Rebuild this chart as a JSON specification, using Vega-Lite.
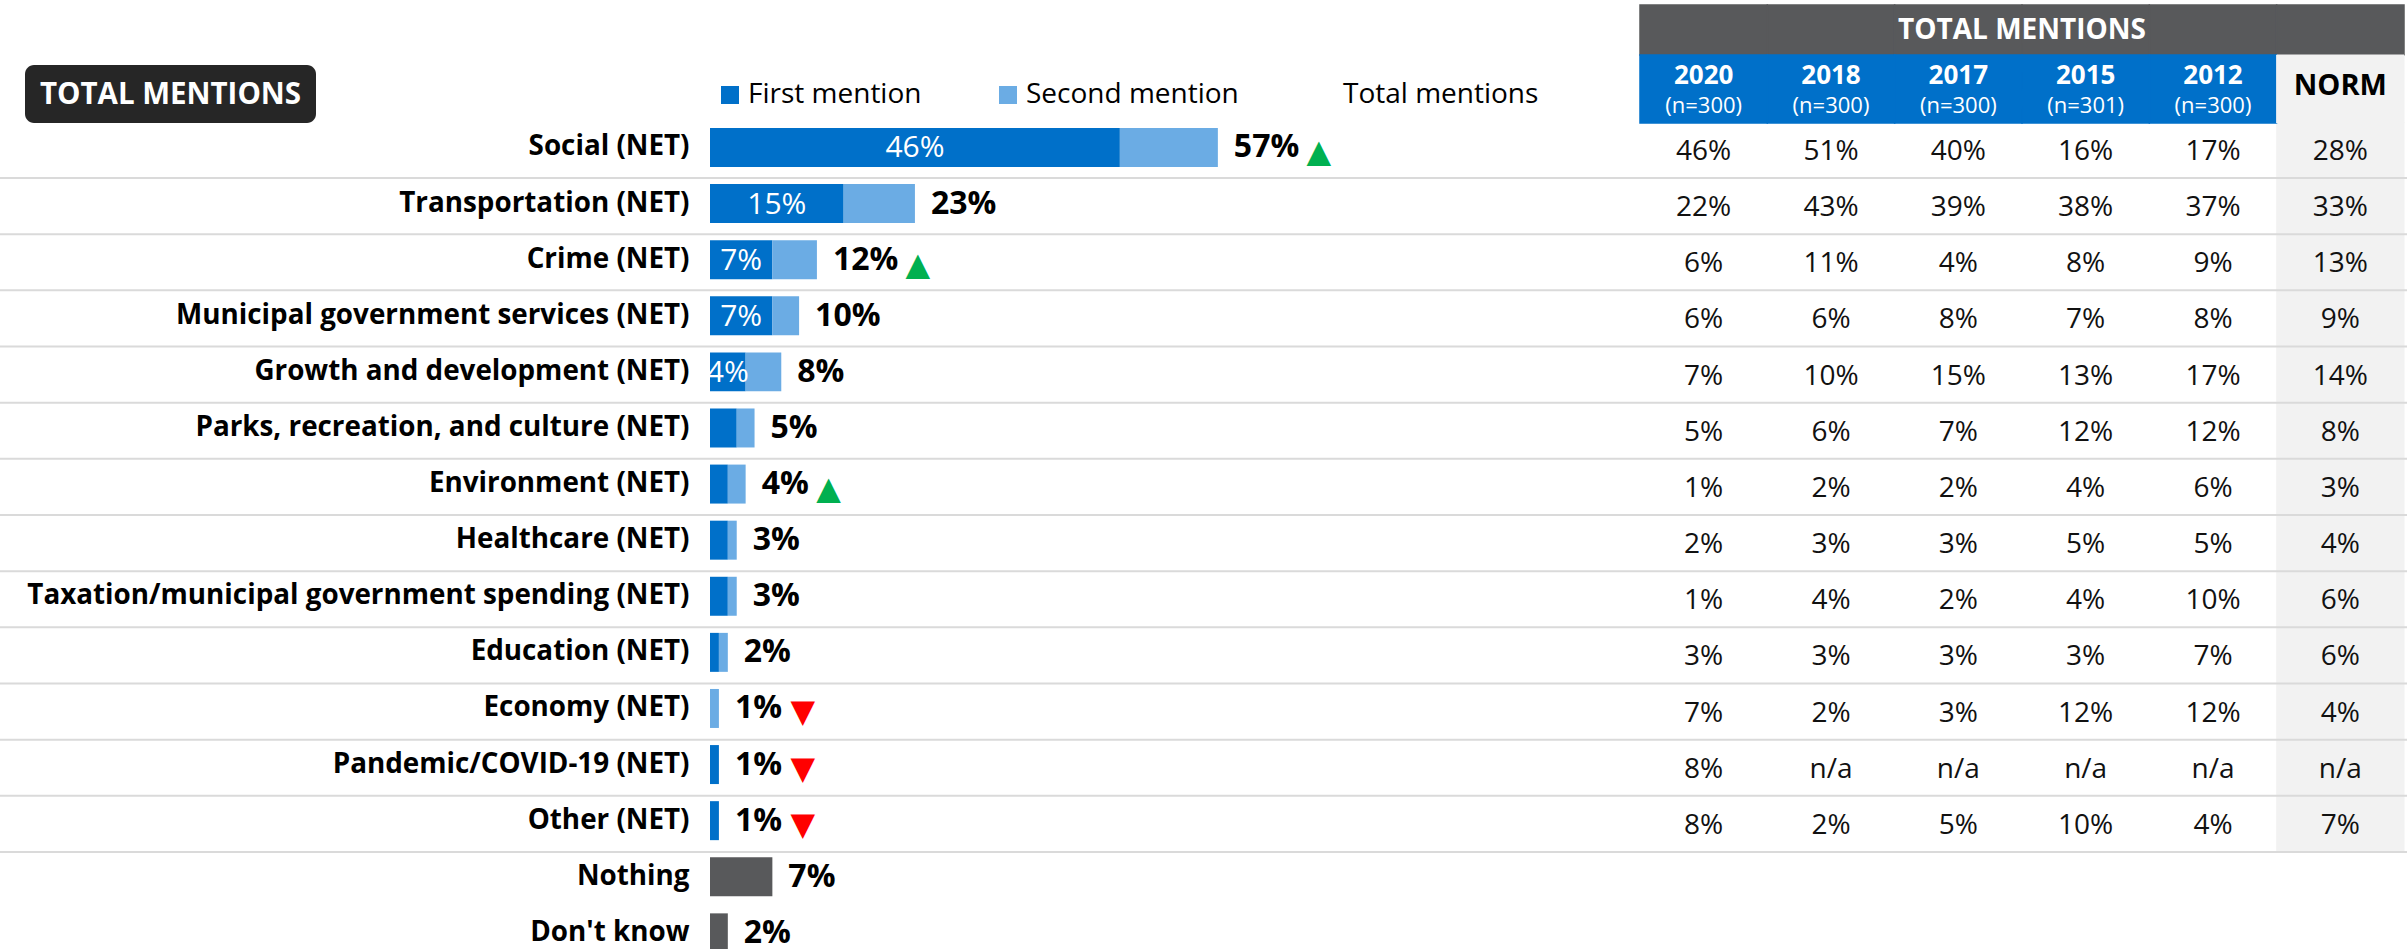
{
  "$schema": "https://vega.github.io/schema/vega-lite/v6.json",
  "width": 2407,
  "height": 949,
  "autosize": {"type": "none"},
  "padding": 0,
  "background": "#ffffff",
  "config": {"view": {"stroke": null}, "font": "Open Sans"},
  "datasets": {
    "bars": [
      {"cat": "Social (NET)", "type": "First mention", "pct": 0.46},
      {"cat": "Social (NET)", "type": "Second mention", "pct": 0.11},
      {"cat": "Transportation (NET)", "type": "First mention", "pct": 0.15},
      {"cat": "Transportation (NET)", "type": "Second mention", "pct": 0.08},
      {"cat": "Crime (NET)", "type": "First mention", "pct": 0.07},
      {"cat": "Crime (NET)", "type": "Second mention", "pct": 0.05},
      {"cat": "Municipal government services (NET)", "type": "First mention", "pct": 0.07},
      {"cat": "Municipal government services (NET)", "type": "Second mention", "pct": 0.03},
      {"cat": "Growth and development (NET)", "type": "First mention", "pct": 0.04},
      {"cat": "Growth and development (NET)", "type": "Second mention", "pct": 0.04},
      {"cat": "Parks, recreation, and culture (NET)", "type": "First mention", "pct": 0.03},
      {"cat": "Parks, recreation, and culture (NET)", "type": "Second mention", "pct": 0.02},
      {"cat": "Environment (NET)", "type": "First mention", "pct": 0.02},
      {"cat": "Environment (NET)", "type": "Second mention", "pct": 0.02},
      {"cat": "Healthcare (NET)", "type": "First mention", "pct": 0.02},
      {"cat": "Healthcare (NET)", "type": "Second mention", "pct": 0.01},
      {"cat": "Taxation/municipal government spending (NET)", "type": "First mention", "pct": 0.02},
      {"cat": "Taxation/municipal government spending (NET)", "type": "Second mention", "pct": 0.01},
      {"cat": "Education (NET)", "type": "First mention", "pct": 0.01},
      {"cat": "Education (NET)", "type": "Second mention", "pct": 0.01},
      {"cat": "Economy (NET)", "type": "First mention", "pct": 0.0},
      {"cat": "Economy (NET)", "type": "Second mention", "pct": 0.01},
      {"cat": "Pandemic/COVID-19 (NET)", "type": "First mention", "pct": 0.01},
      {"cat": "Pandemic/COVID-19 (NET)", "type": "Second mention", "pct": 0.0},
      {"cat": "Other (NET)", "type": "First mention", "pct": 0.01},
      {"cat": "Other (NET)", "type": "Second mention", "pct": 0.0},
      {"cat": "Nothing", "type": "None", "pct": 0.07},
      {"cat": "Don't know", "type": "None", "pct": 0.02}
    ],
    "totals": [
      {"cat": "Social (NET)", "total": 0.57, "sig": "up"},
      {"cat": "Transportation (NET)", "total": 0.23, "sig": ""},
      {"cat": "Crime (NET)", "total": 0.12, "sig": "up"},
      {"cat": "Municipal government services (NET)", "total": 0.10, "sig": ""},
      {"cat": "Growth and development (NET)", "total": 0.08, "sig": ""},
      {"cat": "Parks, recreation, and culture (NET)", "total": 0.05, "sig": ""},
      {"cat": "Environment (NET)", "total": 0.04, "sig": "up"},
      {"cat": "Healthcare (NET)", "total": 0.03, "sig": ""},
      {"cat": "Taxation/municipal government spending (NET)", "total": 0.03, "sig": ""},
      {"cat": "Education (NET)", "total": 0.02, "sig": ""},
      {"cat": "Economy (NET)", "total": 0.01, "sig": "down"},
      {"cat": "Pandemic/COVID-19 (NET)", "total": 0.01, "sig": "down"},
      {"cat": "Other (NET)", "total": 0.01, "sig": "down"},
      {"cat": "Nothing", "total": 0.07, "sig": ""},
      {"cat": "Don't know", "total": 0.02, "sig": ""}
    ],
    "table": [
      {"cat": "Social (NET)", "2020": "46%", "2018": "51%", "2017": "40%", "2015": "16%", "2012": "17%", "NORM": "28%"},
      {"cat": "Transportation (NET)", "2020": "22%", "2018": "43%", "2017": "39%", "2015": "38%", "2012": "37%", "NORM": "33%"},
      {"cat": "Crime (NET)", "2020": "6%", "2018": "11%", "2017": "4%", "2015": "8%", "2012": "9%", "NORM": "13%"},
      {"cat": "Municipal government services (NET)", "2020": "6%", "2018": "6%", "2017": "8%", "2015": "7%", "2012": "8%", "NORM": "9%"},
      {"cat": "Growth and development (NET)", "2020": "7%", "2018": "10%", "2017": "15%", "2015": "13%", "2012": "17%", "NORM": "14%"},
      {"cat": "Parks, recreation, and culture (NET)", "2020": "5%", "2018": "6%", "2017": "7%", "2015": "12%", "2012": "12%", "NORM": "8%"},
      {"cat": "Environment (NET)", "2020": "1%", "2018": "2%", "2017": "2%", "2015": "4%", "2012": "6%", "NORM": "3%"},
      {"cat": "Healthcare (NET)", "2020": "2%", "2018": "3%", "2017": "3%", "2015": "5%", "2012": "5%", "NORM": "4%"},
      {"cat": "Taxation/municipal government spending (NET)", "2020": "1%", "2018": "4%", "2017": "2%", "2015": "4%", "2012": "10%", "NORM": "6%"},
      {"cat": "Education (NET)", "2020": "3%", "2018": "3%", "2017": "3%", "2015": "3%", "2012": "7%", "NORM": "6%"},
      {"cat": "Economy (NET)", "2020": "7%", "2018": "2%", "2017": "3%", "2015": "12%", "2012": "12%", "NORM": "4%"},
      {"cat": "Pandemic/COVID-19 (NET)", "2020": "8%", "2018": "n/a", "2017": "n/a", "2015": "n/a", "2012": "n/a", "NORM": "n/a"},
      {"cat": "Other (NET)", "2020": "8%", "2018": "2%", "2017": "5%", "2015": "10%", "2012": "4%", "NORM": "7%"}
    ],
    "header": [
      {"col": "2020", "n": "(n=300)"},
      {"col": "2018", "n": "(n=300)"},
      {"col": "2017", "n": "(n=300)"},
      {"col": "2015", "n": "(n=301)"},
      {"col": "2012", "n": "(n=300)"},
      {"col": "NORM", "n": ""}
    ]
  },
  "resolve": {"scale": {"x": "independent", "y": "independent", "color": "independent"}},
  "layer": [
    {
      "data": {"name": "table"},
      "transform": [{"fold": ["2020", "2018", "2017", "2015", "2012", "NORM"], "as": ["col", "val"]}],
      "encoding": {
        "x": {"field": "col", "type": "nominal", "axis": null,
          "scale": {"domain": ["2020", "2018", "2017", "2015", "2012", "NORM"], "range": [1640, 2404], "paddingInner": 0, "paddingOuter": 0}},
        "y": {"field": "cat", "type": "nominal", "axis": null,
          "scale": {"domain": ["Social (NET)", "Transportation (NET)", "Crime (NET)", "Municipal government services (NET)", "Growth and development (NET)", "Parks, recreation, and culture (NET)", "Environment (NET)", "Healthcare (NET)", "Taxation/municipal government spending (NET)", "Education (NET)", "Economy (NET)", "Pandemic/COVID-19 (NET)", "Other (NET)"], "range": [121.85, 852], "paddingInner": 0, "paddingOuter": 0}}
      },
      "layer": [
        {"transform": [{"filter": "datum.col === 'NORM'"}], "mark": {"type": "rect", "color": "#F2F2F2", "stroke": "#F2F2F2", "strokeWidth": 1}},
        {"mark": {"type": "text", "fontSize": 28, "color": "#111111", "baseline": "middle", "dy": 2}, "encoding": {"text": {"field": "val"}}}
      ]
    },
    {
      "data": {"name": "table"},
      "mark": {"type": "rule", "color": "#DADADA", "strokeWidth": 2},
      "encoding": {
        "y": {"field": "cat", "type": "nominal", "axis": null,
          "scale": {"type": "point", "domain": ["Social (NET)", "Transportation (NET)", "Crime (NET)", "Municipal government services (NET)", "Growth and development (NET)", "Parks, recreation, and culture (NET)", "Environment (NET)", "Healthcare (NET)", "Taxation/municipal government spending (NET)", "Education (NET)", "Economy (NET)", "Pandemic/COVID-19 (NET)", "Other (NET)"], "range": [178, 852], "padding": 0}}
      }
    },
    {
      "data": {"name": "header"},
      "encoding": {
        "x": {"field": "col", "type": "nominal", "axis": null,
          "scale": {"domain": ["2020", "2018", "2017", "2015", "2012", "NORM"], "range": [1640, 2404], "paddingInner": 0, "paddingOuter": 0}},
        "y": {"datum": "group", "type": "nominal", "axis": null,
          "scale": {"domain": ["group"], "range": [5, 55], "paddingInner": 0, "paddingOuter": 0}}
      },
      "layer": [
        {"mark": {"type": "rect", "color": "#58595B", "stroke": "#58595B", "strokeWidth": 1.5}},
        {"data": {"values": [{"t": "TOTAL MENTIONS"}]},
          "mark": {"type": "text", "color": "#ffffff", "fontSize": 28, "fontWeight": "bold", "baseline": "middle", "dy": 1},
          "encoding": {"x": {"datum": "2017", "type": "nominal", "bandPosition": 1}, "text": {"field": "t"}}}
      ]
    },
    {
      "data": {"name": "header"},
      "encoding": {
        "x": {"field": "col", "type": "nominal", "axis": null,
          "scale": {"domain": ["2020", "2018", "2017", "2015", "2012", "NORM"], "range": [1640, 2404], "paddingInner": 0, "paddingOuter": 0}},
        "y": {"datum": "year", "type": "nominal", "axis": null,
          "scale": {"domain": ["year"], "range": [55, 123], "paddingInner": 0, "paddingOuter": 0}}
      },
      "layer": [
        {"transform": [{"filter": "datum.col !== 'NORM'"}],
          "mark": {"type": "rect", "color": "#0070C9", "stroke": "#0070C9", "strokeWidth": 1.5}},
        {"transform": [{"filter": "datum.col === 'NORM'"}],
          "mark": {"type": "rect", "color": "#F2F2F2", "stroke": "#F2F2F2", "strokeWidth": 1}},
        {"transform": [{"filter": "datum.col !== 'NORM'"}],
          "mark": {"type": "text", "color": "#ffffff", "fontSize": 26, "fontWeight": "bold", "baseline": "middle", "dy": -13},
          "encoding": {"text": {"field": "col"}}},
        {"transform": [{"filter": "datum.col !== 'NORM'"}],
          "mark": {"type": "text", "color": "#ffffff", "fontSize": 22, "baseline": "middle", "dy": 17},
          "encoding": {"text": {"field": "n"}}},
        {"transform": [{"filter": "datum.col === 'NORM'"}],
          "mark": {"type": "text", "color": "#000000", "fontSize": 29, "fontWeight": "bold", "baseline": "middle", "dy": -3},
          "encoding": {"text": {"field": "col"}}}
      ]
    },
    {
      "data": {"values": [{"box": "TOTAL MENTIONS"}]},
      "encoding": {
        "x": {"field": "box", "type": "nominal", "axis": null,
          "scale": {"domain": ["TOTAL MENTIONS"], "range": [25, 316], "paddingInner": 0, "paddingOuter": 0}},
        "y": {"field": "box", "type": "nominal", "axis": null,
          "scale": {"domain": ["TOTAL MENTIONS"], "range": [65, 123], "paddingInner": 0, "paddingOuter": 0}}
      },
      "layer": [
        {"mark": {"type": "rect", "color": "#262626", "cornerRadius": 9}},
        {"mark": {"type": "text", "color": "#ffffff", "fontSize": 29.5, "fontWeight": "bold", "baseline": "middle", "dy": 1}, "encoding": {"text": {"field": "box"}}}
      ]
    },
    {
      "encoding": {
        "y": {"field": "cat", "type": "nominal",
          "scale": {"domain": ["Social (NET)", "Transportation (NET)", "Crime (NET)", "Municipal government services (NET)", "Growth and development (NET)", "Parks, recreation, and culture (NET)", "Environment (NET)", "Healthcare (NET)", "Taxation/municipal government spending (NET)", "Education (NET)", "Economy (NET)", "Pandemic/COVID-19 (NET)", "Other (NET)", "Nothing", "Don't know"], "range": [119.44, 960.9], "paddingInner": 0.305, "paddingOuter": 0.1525},
          "axis": {"orient": "left", "offset": -689, "title": null, "domain": false, "ticks": false, "grid": false, "labelPadding": 0, "labelFont": "Open Sans", "labelFontWeight": "bold", "labelFontSize": 27.8, "labelColor": "#000000", "labelLimit": 1000}}
      },
      "layer": [
        {"data": {"name": "bars"},
          "mark": {"type": "bar"},
          "encoding": {
            "x": {"field": "pct", "type": "quantitative", "stack": "zero", "axis": null,
              "scale": {"domain": [0, 1], "range": [710, 1601], "nice": false, "zero": true}},
            "color": {"field": "type", "type": "nominal",
              "scale": {"domain": ["First mention", "Second mention", "Total mentions", "None"], "range": ["#0070C9", "#6BACE4", "rgba(0,0,0,0)", "#58595B"]},
              "legend": {"orient": "none", "legendX": 716, "legendY": 81, "direction": "horizontal", "title": null,
                "values": ["First mention", "Second mention", "Total mentions"],
                "symbolType": "square", "symbolSize": 324, "symbolStrokeWidth": 0, "symbolOpacity": 1,
                "labelFont": "Open Sans", "labelFontSize": 28, "labelColor": "#000000", "labelOffset": 4,
                "columnPadding": 72, "padding": 0, "labelLimit": 400}}
          }},
        {"data": {"name": "totals"},
          "mark": {"type": "text", "align": "left", "baseline": "middle", "dx": 16, "dy": 0, "fontSize": 32, "fontWeight": "bold", "color": "#000000"},
          "encoding": {"x": {"field": "total", "type": "quantitative", "axis": null}, "text": {"field": "total", "format": ".0%"}}},
        {"data": {"name": "totals"},
          "transform": [{"filter": "datum.sig === 'up' && datum.total >= 0.1"}],
          "mark": {"type": "text", "text": "▲", "font": "DejaVu Sans", "fontSize": 32, "align": "center", "baseline": "middle", "dx": 101, "dy": 5, "color": "#00B050"},
          "encoding": {"x": {"field": "total", "type": "quantitative", "axis": null}}},
        {"data": {"name": "totals"},
          "transform": [{"filter": "datum.sig === 'up' && datum.total < 0.1"}],
          "mark": {"type": "text", "text": "▲", "font": "DejaVu Sans", "fontSize": 32, "align": "center", "baseline": "middle", "dx": 83, "dy": 5, "color": "#00B050"},
          "encoding": {"x": {"field": "total", "type": "quantitative", "axis": null}}},
        {"data": {"name": "totals"},
          "transform": [{"filter": "datum.sig === 'down'"}],
          "mark": {"type": "text", "text": "▼", "font": "DejaVu Sans", "fontSize": 32, "align": "center", "baseline": "middle", "dx": 84, "dy": 4, "color": "#FF0000"},
          "encoding": {"x": {"field": "total", "type": "quantitative", "axis": null}}}
      ]
    },
    {
      "data": {"name": "bars"},
      "transform": [{"filter": "datum.type === 'First mention' && datum.pct >= 0.04"}],
      "mark": {"type": "text", "color": "#ffffff", "fontSize": 30, "align": "center", "baseline": "middle", "dy": 1},
      "encoding": {
        "x": {"field": "pct", "type": "quantitative", "axis": null,
          "scale": {"domain": [0, 1], "range": [710, 1155.5], "nice": false, "zero": true}},
        "y": {"field": "cat", "type": "nominal", "axis": null,
          "scale": {"domain": ["Social (NET)", "Transportation (NET)", "Crime (NET)", "Municipal government services (NET)", "Growth and development (NET)", "Parks, recreation, and culture (NET)", "Environment (NET)", "Healthcare (NET)", "Taxation/municipal government spending (NET)", "Education (NET)", "Economy (NET)", "Pandemic/COVID-19 (NET)", "Other (NET)", "Nothing", "Don't know"], "range": [119.44, 960.9], "paddingInner": 0.305, "paddingOuter": 0.1525}},
        "text": {"field": "pct", "format": ".0%"}
      }
    }
  ]
}
